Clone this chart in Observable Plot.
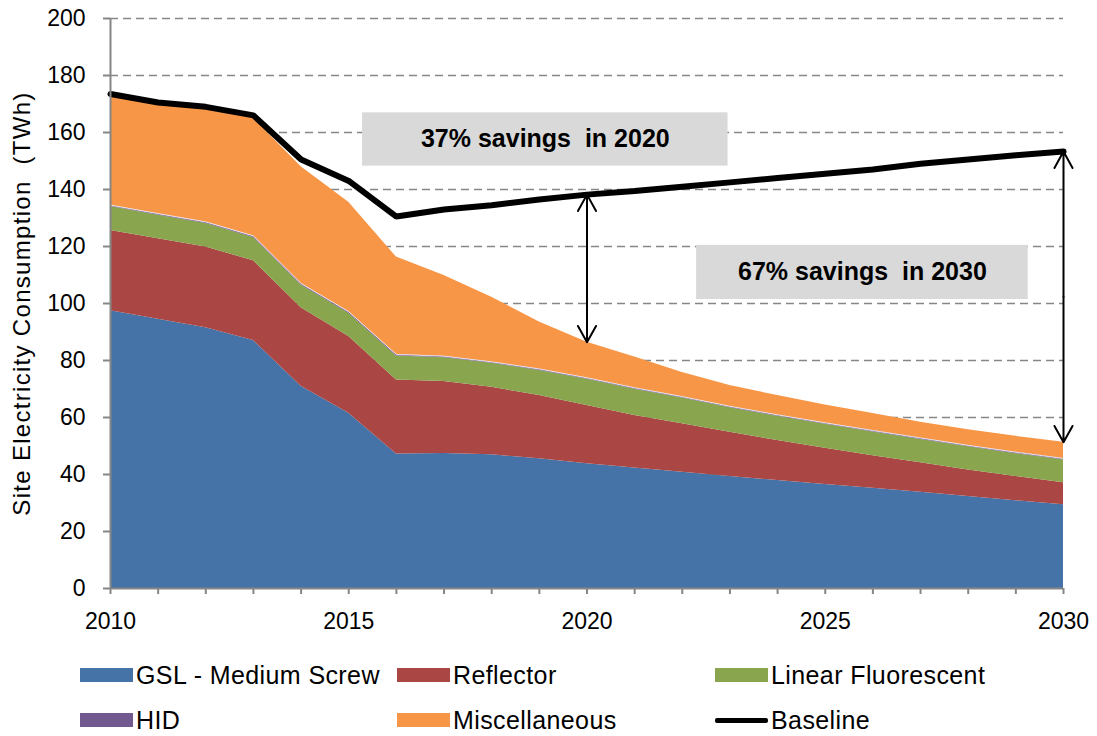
<!DOCTYPE html>
<html><head><meta charset="utf-8">
<script src="https://cdn.jsdelivr.net/npm/d3@7"></script>
<script src="https://cdn.jsdelivr.net/npm/@observablehq/plot@0.6"></script>
<style>
body{margin:0;background:#fff;font-family:"Liberation Sans",Arial,sans-serif;}
#wrap{position:relative;width:1097px;height:736px;overflow:hidden;}
#wrap svg text{white-space:pre;}
#wrap svg [aria-label="y-axis label"] text{font-size:24px;letter-spacing:1.3px;}
.leg{position:absolute;display:flex;align-items:center;font-size:25px;letter-spacing:0.4px;color:#000;white-space:pre;}
.sw{width:53px;height:14px;margin-right:3px;}
.ln{width:53px;height:5px;margin-right:3px;background:#000;border-radius:2px;}
</style></head><body><div id="wrap"></div>
<script>
const years = [2010,2011,2012,2013,2014,2015,2016,2017,2018,2019,2020,2021,2022,2023,2024,2025,2026,2027,2028,2029,2030];
const gsl       = [97.5,94.5,91.5,87.0,71.0,61.5,47.2,47.4,46.9,45.5,43.8,42.3,40.8,39.3,37.9,36.5,35.2,33.8,32.3,30.8,29.4];
const reflector = [28.1,28.2,28.3,28.0,27.5,26.9,26.0,25.2,23.7,22.2,20.4,18.4,17.0,15.5,14.0,12.7,11.4,10.3,9.3,8.5,7.7];
const linear    = [8.4,8.3,8.3,8.2,8.0,8.2,8.4,8.4,8.4,8.8,9.2,9.2,9.0,8.6,8.5,8.4,8.3,8.2,8.1,8.0,8.0];
const hid       = [0.5,0.5,0.5,0.5,0.5,0.5,0.5,0.5,0.5,0.5,0.5,0.5,0.5,0.5,0.5,0.5,0.5,0.5,0.5,0.5,0.5];
const misc      = [38.0,38.8,39.9,41.3,41.0,38.4,34.2,28.3,22.7,16.5,12.5,10.8,8.5,7.3,6.8,6.3,6.0,5.5,5.5,5.6,5.7];
const baseline  = [173.5,170.5,169.0,166.0,150.5,143.0,130.5,133.0,134.5,136.5,138.2,139.5,141.0,142.5,144.0,145.5,147.0,149.0,150.5,152.0,153.3];

const seriesNames  = ["GSL - Medium Screw","Reflector","Linear Fluorescent","HID","Miscellaneous"];
const seriesColors = ["#4572a7","#aa4643","#89a54e","#71588f","#f79646"];
const seriesValues = [gsl, reflector, linear, hid, misc];
const baselineName = "Baseline";

const yTicks = [0,20,40,60,80,100,120,140,160,180,200];
const xLabelTicks = [2010,2015,2020,2025,2030];
const yLabel = "Site Electricity Consumption  (TWh)";

const calloutLabels = ["37% savings  in 2020","67% savings  in 2030"];
const calloutYears  = [2020, 2030];
const calloutX1 = [2015.29, 2022.30];
const calloutX2 = [2022.96, 2029.26];
const calloutY1 = [148.2, 101.4];
const calloutY2 = [166.9, 120.4];

// tables built from the arrays
const stackRows = [];
seriesNames.forEach((s, k) => years.forEach((yr, i) => stackRows.push({series: s, year: yr, value: seriesValues[k][i]})));
const baseRows = years.map((yr, i) => ({year: yr, value: baseline[i]}));
const totals = years.map((yr, i) => seriesValues.reduce((a, arr) => a + arr[i], 0));
const hidTop = years.map((yr, i) => ({year: yr, value: gsl[i] + reflector[i] + linear[i] + hid[i]}));
const callouts = calloutLabels.map((l, i) => ({label: l, x1: calloutX1[i], x2: calloutX2[i], y1: calloutY1[i], y2: calloutY2[i]}));
const arrowRows = calloutYears.map(yr => {
  const i = years.indexOf(yr);
  return {year: yr, top: baseline[i], bottom: totals[i], mid: (baseline[i] + totals[i]) / 2};
});

const grey = "#868686";
const chart = Plot.plot({
  width: 1097, height: 650,
  marginLeft: 110, marginRight: 34, marginTop: 18, marginBottom: 62,
  style: {fontFamily: "Liberation Sans, Arial, sans-serif", fontSize: "23px", color: "#000", background: "transparent", overflow: "visible"},
  x: {domain: [2010, 2030]},
  y: {domain: [0, 200]},
  color: {domain: seriesNames, range: seriesColors},
  marks: [
    Plot.ruleY(yTicks.filter(d => d > 0), {stroke: grey, strokeWidth: 1.5, strokeDasharray: "8,5"}),
    Plot.areaY(stackRows, {x: "year", y: "value", z: "series", fill: "series", curve: "linear"}),
    Plot.lineY(hidTop, {x: "year", y: "value", stroke: "#fff", strokeWidth: 1, strokeOpacity: 0.8}),
    Plot.lineY(baseRows, {x: "year", y: "value", stroke: "#000", strokeWidth: 6, strokeLinejoin: "miter"}),
    Plot.rect(callouts, {x1: "x1", x2: "x2", y1: "y1", y2: "y2", fill: "#d9d9d9"}),
    Plot.text(callouts, {x: d => (d.x1 + d.x2) / 2, y: d => (d.y1 + d.y2) / 2, text: "label", fontWeight: "bold", fontSize: 25, fill: "#000"}),
    Plot.arrow(arrowRows, {x: "year", y1: "mid", y2: "top", stroke: "#000", strokeWidth: 2, headLength: 14, headAngle: 58, bend: 0}),
    Plot.arrow(arrowRows, {x: "year", y1: "mid", y2: "bottom", stroke: "#000", strokeWidth: 2, headLength: 14, headAngle: 58, bend: 0}),
    Plot.axisY({ticks: yTicks, tickSize: 7, tickPadding: 18, stroke: grey, strokeWidth: 2, tickFormat: d => String(d),
      label: yLabel, labelAnchor: "center", labelArrow: "none", labelOffset: 98}),
    Plot.axisX({ticks: years, tickSize: 6, tickFormat: () => "", stroke: grey, strokeWidth: 2, label: null}),
    Plot.axisX({ticks: xLabelTicks, tickSize: 0, tickPadding: 24, tickFormat: d => String(d), label: null}),
    Plot.ruleX([2010], {stroke: grey, strokeWidth: 2}),
    Plot.ruleY([0], {stroke: grey, strokeWidth: 2})
  ]
});
const wrap = document.getElementById("wrap");
wrap.appendChild(chart);

// legend (HTML, below the chart)
const legendItems = [
  {name: seriesNames[0], color: seriesColors[0], col: 0, row: 0},
  {name: seriesNames[1], color: seriesColors[1], col: 1, row: 0},
  {name: seriesNames[2], color: seriesColors[2], col: 2, row: 0},
  {name: seriesNames[3], color: seriesColors[3], col: 0, row: 1},
  {name: seriesNames[4], color: seriesColors[4], col: 1, row: 1},
  {name: baselineName, color: "#000", col: 2, row: 1, line: true}
];
const colX = [80, 397, 715];
const rowY = [660, 705];
legendItems.forEach(it => {
  const d = document.createElement("div");
  d.className = "leg";
  d.style.left = colX[it.col] + "px";
  d.style.top = rowY[it.row] + "px";
  d.style.height = "30px";
  const s = document.createElement("div");
  s.className = it.line ? "ln" : "sw";
  if (!it.line) s.style.background = it.color;
  const t = document.createElement("span");
  t.textContent = it.name;
  d.appendChild(s); d.appendChild(t);
  wrap.appendChild(d);
});
</script></body></html>
